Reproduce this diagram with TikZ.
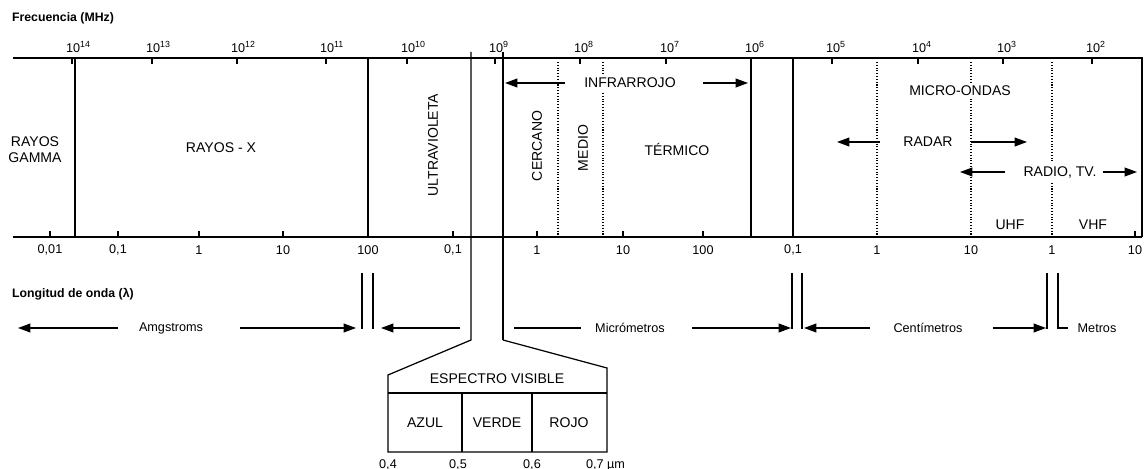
\documentclass[tikz,border=0pt]{standalone}
\usepackage{fontspec}
\setmainfont{Liberation Sans}
\usetikzlibrary{arrows.meta}

\begin{document}
\begin{tikzpicture}[x=0.02cm, y=-0.02cm,
    every node/.style={font=\fontsize{8}{9}\selectfont, inner sep=1pt},
    axis/.style={line width=0.8pt},
    band/.style={line width=0.7pt},
    sub/.style={line width=0.6pt, densely dotted},
    arr/.style={-{Triangle[length=7pt, width=5pt]}, line width=0.7pt},
    num/.style={font=\fontsize{7.2}{8}\selectfont},
    small/.style={font=\fontsize{7.2}{8}\selectfont},
    blank/.style={fill=white, inner sep=2pt},
    head/.style={font=\bfseries\fontsize{7}{8}\selectfont, anchor=west}]
    \useasboundingbox (0,0) rectangle (1146,469);

    % headings
    \node[head] (frec) at (10,18) {Frecuencia (MHz)};
    \node[head] (long) at (10,294) {Longitud de onda (λ)};

    % frame of the spectrum
    \coordinate (tl) at (13,58);
    \coordinate (tr) at (1142,58);
    \coordinate (bl) at (13,237);
    \coordinate (br) at (1142,237);
    \draw[axis] (tl) -- (tr) -- (br);
    \draw[axis] (bl) -- (br);

    % frequency scale
    \foreach \x/\e in {72/14, 152/13, 237/12, 326/11, 407/10, 495/9, 580/8, 666/7, 751/6, 832/5, 918/4, 1003/3, 1092/2} {
        \draw[band] (\x,58) -- (\x,64);
        \node[num, anchor=base west] at (\x-8,53) {10\textsuperscript{\e}};
    }

    % wavelength scale
    \foreach \x in {50, 118, 199, 283, 453, 537, 623, 703, 1135}
        \draw[band] (\x,237) -- (\x,231);
    \foreach \x/\t in {50/{0,01}, 118/{0,1}, 199/1, 283/10, 368/100, 453/{0,1}, 537/1, 623/10, 703/100, 793/{0,1}, 877/1, 971/10, 1052/1, 1135/10}
        \node[num] at (\x,250) {\t};

    % band limits
    \draw[band] (75,58) -- (75,237);
    \draw[band] (368,58) -- (368,237);
    \draw[band] (751,58) -- (751,237);
    \draw[band] (793,58) -- (793,237);
    \foreach \x in {558, 603, 877, 971, 1052}
        \draw[sub] (\x,62) -- (\x,237);

    % visible window
    \draw[band] (471,52) -- (471,340) -- (388,375) -- (388,452) -- (607,452) -- (607,368) -- (503,340);
    \draw[line width=1.1pt] (503,52) -- (503,340);
    \draw[band] (388,393) -- (607,393);
    \draw[band] (462,393) -- (462,452);
    \draw[band] (532,393) -- (532,452);

    \node (vis) at (497,379) {ESPECTRO VISIBLE};
    \node (azul) at (425,423) {AZUL};
    \node (verde) at (497,423) {VERDE};
    \node (rojo) at (569,423) {ROJO};
    \node[num] (l4) at (388,465) {0,4};
    \node[num] (l5) at (458,465) {0,5};
    \node[num] (l6) at (532,465) {0,6};
    \node[num, anchor=west] (l7) at (584,465) {0,7 µm};

    % band names
    \node[align=center] (gamma) at (35,150) {RAYOS\\GAMMA};
    \node (rx) at (221,148) {RAYOS - X};
    \node[rotate=90] (uv) at (433,145) {ULTRAVIOLETA};
    \node[rotate=90] (cerca) at (537,146) {CERCANO};
    \node[rotate=90] (medio) at (583,148) {MEDIO};
    \node (term) at (677,149) {TÉRMICO};
    \node[blank] (infra) at (630,83) {INFRARROJO};
    \node[blank] (micro) at (960,91) {MICRO-ONDAS};
    \node (radar) at (928,142) {RADAR};
    \node[blank] (radio) at (1060,172) {RADIO, TV.};
    \node (uhf) at (1010,225) {UHF};
    \node (vhf) at (1093,225) {VHF};

    \draw[arr] (565,83) -- (505,83);
    \draw[arr] (703,83) -- (748,83);
    \draw[arr] (880,142) -- (837,142);
    \draw[arr] (971,142) -- (1027,142);
    \draw[arr] (1005,172) -- (960,172);
    \draw[arr] (1103,172) -- (1137,172);

    % units
    \draw[band] (362,273) -- (362,329);
    \draw[band] (373,273) -- (373,329);
    \draw[band] (792,273) -- (792,329);
    \draw[band] (802,273) -- (802,329);
    \draw[band] (1047,273) -- (1047,329);
    \draw[band] (1058,273) -- (1058,328) -- (1068,328);

    \node[small] (amg) at (171,328) {Amgstroms};
    \node[small] (mic) at (630,328) {Micrómetros};
    \node[small] (cen) at (928,328) {Centímetros};
    \node[small] (met) at (1097,328) {Metros};

    \draw[arr] (118,328) -- (18,328);
    \draw[arr] (240,328) -- (356,328);
    \draw[arr] (460,328) -- (381,328);
    \draw[band] (514,328) -- (581,328);
    \draw[arr] (692,328) -- (791,328);
    \draw[arr] (870,328) -- (804,328);
    \draw[arr] (993,328) -- (1046,328);
\end{tikzpicture}
\end{document}
